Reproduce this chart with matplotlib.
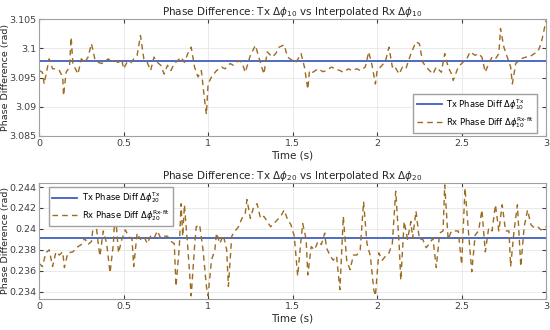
import matplotlib
matplotlib.use("Agg")
import matplotlib.pyplot as plt
from matplotlib.ticker import FuncFormatter

# ---- data -------------------------------------------------------------
tx10_value = 3.0978
rx10_t = [0.00, 0.02, 0.03, 0.05, 0.06, 0.08, 0.10, 0.12, 0.14, 0.145, 0.16, 0.18, 0.19, 0.20,
          0.23, 0.25, 0.27, 0.29, 0.31, 0.33, 0.35, 0.37, 0.39, 0.41, 0.43, 0.45, 0.47, 0.49,
          0.50, 0.52, 0.54, 0.56, 0.58, 0.60, 0.62, 0.64, 0.66, 0.68, 0.70, 0.72, 0.74, 0.76,
          0.78, 0.80, 0.82, 0.84, 0.86, 0.88, 0.90, 0.92, 0.94, 0.96, 0.98, 0.99, 1.00, 1.02,
          1.05, 1.08, 1.10, 1.13, 1.15, 1.18, 1.20, 1.22, 1.25, 1.28, 1.30, 1.33, 1.35, 1.38,
          1.40, 1.42, 1.45, 1.47, 1.50, 1.52, 1.55, 1.57, 1.59, 1.60, 1.62, 1.65, 1.68, 1.70,
          1.73, 1.75, 1.78, 1.80, 1.83, 1.85, 1.88, 1.90, 1.93, 1.95, 1.97, 1.99, 2.00, 2.03,
          2.05, 2.07, 2.09, 2.10, 2.13, 2.15, 2.17, 2.20, 2.23, 2.25, 2.27, 2.30, 2.33, 2.35,
          2.38, 2.40, 2.42, 2.44, 2.45, 2.48, 2.50, 2.53, 2.55, 2.58, 2.60, 2.62, 2.64, 2.66,
          2.68, 2.70, 2.72, 2.73, 2.75, 2.77, 2.79, 2.80, 2.82, 2.85, 2.88, 2.90, 2.93, 2.95,
          2.97, 3.00]
rx10_val = [3.0962, 3.0959, 3.0939, 3.0968, 3.0982, 3.0965, 3.0965, 3.0962, 3.0951, 3.0919,
            3.0959, 3.0968, 3.1019, 3.0974, 3.0956, 3.0982, 3.0976, 3.0985, 3.1008, 3.0982,
            3.0976, 3.0974, 3.0978, 3.0982, 3.0976, 3.0978, 3.0976, 3.0980, 3.0965, 3.0976,
            3.0974, 3.0982, 3.0988, 3.1022, 3.0982, 3.0976, 3.0962, 3.0985, 3.0976, 3.0971,
            3.0956, 3.0971, 3.0962, 3.0974, 3.0979, 3.0985, 3.0976, 3.0991, 3.1002, 3.0968,
            3.0951, 3.0962, 3.0910, 3.0887, 3.0939, 3.0951, 3.0962, 3.0968, 3.0965, 3.0974,
            3.0971, 3.0979, 3.0976, 3.0959, 3.0988, 3.1005, 3.0985, 3.0956, 3.0994, 3.0985,
            3.0991, 3.1002, 3.1006, 3.0985, 3.0979, 3.0976, 3.0991, 3.0968, 3.0930, 3.0962,
            3.0959, 3.0965, 3.0960, 3.0962, 3.0968, 3.0965, 3.0962, 3.0959, 3.0965, 3.0962,
            3.0965, 3.0962, 3.0968, 3.0994, 3.0971, 3.0939, 3.0962, 3.0971, 3.0979, 3.1002,
            3.0968, 3.0971, 3.0956, 3.0968, 3.0965, 3.0991, 3.1011, 3.1008, 3.0976, 3.0965,
            3.0956, 3.0968, 3.0959, 3.0991, 3.0968, 3.0956, 3.0945, 3.0968, 3.0974, 3.0982,
            3.0994, 3.0988, 3.0991, 3.0985, 3.0959, 3.0974, 3.0985, 3.0982, 3.0991, 3.1034,
            3.1002, 3.0985, 3.0968, 3.0939, 3.0974, 3.0982, 3.0985, 3.0985, 3.0991, 3.0994,
            3.1008, 3.1048]

tx20_value = 0.23917
rx20_t = [0.00, 0.02, 0.04, 0.06, 0.08, 0.10, 0.12, 0.14, 0.15, 0.17, 0.20, 0.23, 0.25, 0.27,
          0.29, 0.31, 0.33, 0.35, 0.36, 0.38, 0.40, 0.42, 0.44, 0.45, 0.47, 0.49, 0.51, 0.53,
          0.55, 0.56, 0.58, 0.60, 0.62, 0.64, 0.66, 0.68, 0.70, 0.72, 0.74, 0.76, 0.78, 0.80,
          0.81, 0.83, 0.84, 0.85, 0.86, 0.88, 0.90, 0.92, 0.93, 0.95, 0.97, 0.99, 1.00, 1.02,
          1.04, 1.05, 1.07, 1.09, 1.11, 1.12, 1.14, 1.16, 1.18, 1.20, 1.22, 1.23, 1.25, 1.27,
          1.29, 1.31, 1.33, 1.35, 1.37, 1.39, 1.40, 1.43, 1.45, 1.47, 1.49, 1.51, 1.53, 1.55,
          1.56, 1.58, 1.59, 1.61, 1.63, 1.65, 1.67, 1.69, 1.70, 1.72, 1.74, 1.76, 1.78, 1.80,
          1.82, 1.84, 1.86, 1.88, 1.90, 1.92, 1.94, 1.96, 1.98, 1.99, 2.01, 2.03, 2.05, 2.07,
          2.09, 2.11, 2.13, 2.14, 2.16, 2.18, 2.20, 2.21, 2.23, 2.25, 2.27, 2.29, 2.31, 2.33,
          2.35, 2.37, 2.39, 2.40, 2.42, 2.44, 2.46, 2.48, 2.50, 2.52, 2.54, 2.56, 2.58, 2.60,
          2.62, 2.64, 2.66, 2.68, 2.70, 2.72, 2.74, 2.76, 2.78, 2.79, 2.81, 2.83, 2.85, 2.87,
          2.89, 2.91, 2.93, 2.95, 2.97, 3.00]
rx20_val = [0.2367, 0.2364, 0.2377, 0.2380, 0.2364, 0.2378, 0.2375, 0.2378, 0.2363, 0.2377,
            0.2378, 0.2383, 0.2385, 0.2391, 0.2385, 0.2388, 0.2415, 0.2386, 0.2374, 0.2398,
            0.2386, 0.2358, 0.2386, 0.2418, 0.2377, 0.2390, 0.2399, 0.2393, 0.2390, 0.2364,
            0.2396, 0.2390, 0.2393, 0.2386, 0.2393, 0.2391, 0.2398, 0.2391, 0.2393, 0.2393,
            0.2388, 0.2386, 0.2345, 0.2383, 0.2424, 0.2393, 0.2423, 0.2382, 0.2336, 0.2383,
            0.2402, 0.2404, 0.2380, 0.2345, 0.2336, 0.2370, 0.2380, 0.2396, 0.2386, 0.2394,
            0.2380, 0.2345, 0.2393, 0.2398, 0.2402, 0.2410, 0.2415, 0.2428, 0.2410, 0.2421,
            0.2424, 0.2410, 0.2412, 0.2407, 0.2402, 0.2405, 0.2407, 0.2412, 0.2418, 0.2409,
            0.2404, 0.2393, 0.2355, 0.2390, 0.2405, 0.2390, 0.2356, 0.2383, 0.2380, 0.2388,
            0.2385, 0.2396, 0.2382, 0.2375, 0.2370, 0.2374, 0.2342, 0.2412, 0.2370, 0.2361,
            0.2375, 0.2375, 0.2380, 0.2426, 0.2386, 0.2374, 0.2342, 0.2336, 0.2377, 0.2370,
            0.2374, 0.2377, 0.2386, 0.2436, 0.2386, 0.2351, 0.2407, 0.2390, 0.2407, 0.2391,
            0.2417, 0.2390, 0.2390, 0.2382, 0.2386, 0.2391, 0.2363, 0.2396, 0.2398, 0.2442,
            0.2390, 0.2398, 0.2398, 0.2398, 0.2366, 0.2439, 0.2398, 0.2359, 0.2394, 0.2398,
            0.2418, 0.2378, 0.2401, 0.2398, 0.2423, 0.2398, 0.2423, 0.2398, 0.2398, 0.2364,
            0.2398, 0.2423, 0.2364, 0.2402, 0.2418, 0.2404, 0.2401, 0.2402, 0.2399, 0.2402]

x_ticks = [0, 0.5, 1, 1.5, 2, 2.5, 3]
y10_ticks = [3.085, 3.09, 3.095, 3.1, 3.105]
y20_ticks = [0.234, 0.236, 0.238, 0.24, 0.242, 0.244]

TX_COLOR = "#3f5fbf"
RX_COLOR = "#9c6b1f"
TEXT = "#262626"

plt.rcParams["font.family"] = "DejaVu Sans"
plt.rcParams["mathtext.fontset"] = "dejavusans"


def style_axes(ax, yticks, ylim):
    ax.set_xlim(0, 3)
    ax.set_ylim(*ylim)
    ax.set_xticks(x_ticks)
    ax.set_yticks(yticks)
    ax.xaxis.set_major_formatter(FuncFormatter(lambda v, p: f"{v:g}"))
    ax.yaxis.set_major_formatter(FuncFormatter(lambda v, p: f"{v:g}"))
    ax.tick_params(direction="in", length=3, labelsize=6.8, colors="#404040",
                   top=True, right=True, pad=2)
    ax.grid(True, color="#e6e6e6", linewidth=0.6)
    ax.set_axisbelow(True)
    for s in ax.spines.values():
        s.set_color("#a0a0a0")
        s.set_linewidth(0.8)
    ax.set_xlabel("Time (s)", fontsize=7.5, color=TEXT, labelpad=2)
    ax.set_ylabel("Phase Difference (rad)", fontsize=6.8, color=TEXT)
    ax.yaxis.set_label_coords(-0.058, 0.5)


def add_legend(ax, loc, anchor):
    ax.legend(loc=loc, bbox_to_anchor=anchor, borderaxespad=0, fontsize=6,
              frameon=True, fancybox=False, edgecolor="#a0a0a0", framealpha=1,
              borderpad=0.4, labelspacing=0.35, handlelength=3.0, handletextpad=0.5)


fig = plt.figure(figsize=(5.5, 3.3), dpi=100)
ax1 = fig.add_axes([0.071, 0.588, 0.922, 0.354])
ax2 = fig.add_axes([0.071, 0.094, 0.922, 0.352])

# top panel
ax1.axhline(tx10_value, color=TX_COLOR, lw=1.3,
            label=r"Tx Phase Diff $\Delta\phi_{10}^{\mathrm{Tx}}$")
ax1.plot(rx10_t, rx10_val, color=RX_COLOR, lw=1.0, linestyle=(0, (4, 3)),
         label=r"Rx Phase Diff $\Delta\phi_{10}^{\mathrm{Rx\text{-}fit}}$")
style_axes(ax1, y10_ticks, (3.085, 3.105))
ax1.set_title(r"Phase Difference: Tx $\Delta\phi_{10}$ vs Interpolated Rx $\Delta\phi_{10}$",
              fontsize=7.5, color=TEXT, pad=3)
add_legend(ax1, "lower right", (1 - 9 / 507, 3 / 117))

# bottom panel
ax2.axhline(tx20_value, color=TX_COLOR, lw=1.3,
            label=r"Tx Phase Diff $\Delta\phi_{20}^{\mathrm{Tx}}$")
ax2.plot(rx20_t, rx20_val, color=RX_COLOR, lw=1.0, linestyle=(0, (4, 3)),
         label=r"Rx Phase Diff $\Delta\phi_{20}^{\mathrm{Rx\text{-}fit}}$")
style_axes(ax2, y20_ticks, (0.2333, 0.2444))
ax2.set_title(r"Phase Difference: Tx $\Delta\phi_{20}$ vs Interpolated Rx $\Delta\phi_{20}$",
              fontsize=7.5, color=TEXT, pad=3)
add_legend(ax2, "upper left", (10 / 507, 1 - 4 / 116))

fig.savefig("out.png", dpi=100)
